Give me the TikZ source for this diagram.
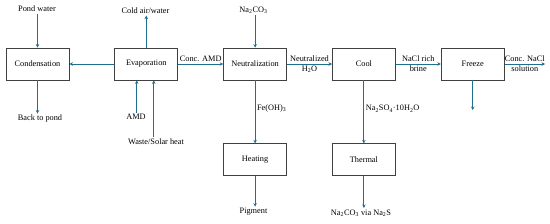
\documentclass[tikz,border=0pt]{standalone}
\usepackage{fontspec}
\setmainfont{Liberation Serif}
\usepackage{xcolor}
\usepackage{tikz}
\usetikzlibrary{arrows.meta,positioning}

\definecolor{flowblue}{RGB}{31,111,143}

\begin{document}
\begin{tikzpicture}[
    x=1pt, y=1pt,
    node distance=63pt and 45pt,
    font=\fontsize{8.3}{9.5}\selectfont,
    >={Stealth[length=3.5pt,width=3.5pt]},
    % Styles
    unit/.style={rectangle, draw=black!75, line width=0.8pt, minimum width=63pt, minimum height=32pt, align=center, inner sep=1pt},
    stream/.style={inner sep=1.5pt, align=center},
    arrow/.style={->, draw=flowblue, line width=0.9pt},
    line/.style={-, draw=flowblue, line width=0.9pt}
]
\useasboundingbox (0,0) rectangle (550,-223);

% --- Main Line ---
\node[unit] (cond) at (37.5,-64) {Condensation};
\node[unit, right=of cond] (evap) {Evaporation};
\node[unit, right=of evap] (neut) {Neutralization};
\node[unit, right=of neut] (cool) {Cool};
\node[unit, right=of cool] (freeze) {Freeze};

% --- Lower Units ---
\node[unit, below=of neut] (heat) {Heating};
\node[unit, below=of cool] (therm) {Thermal};

% --- Streams ---
\node[stream] (pond) at (37,-9) {Pond water};
\node[stream] (back) at (40,-119) {Back to pond};
\node[stream] (cold) at (145.5,-11) {Cold air/water};
\node[stream] (amd) at (136,-117) {AMD};
\node[stream] (waste) at (156,-142) {Waste/Solar heat};
\node[stream] (soda) at (253.5,-10) {Na\textsubscript{2}CO\textsubscript{3}};
\node[stream] (pigm) at (253.5,-212) {Pigment};
\node[stream] (nasulf) at (361,-213) {Na\textsubscript{2}CO\textsubscript{3} via Na\textsubscript{2}S};
\coordinate (frz_out) at (469.5,-110);
\coordinate (nacl_out) at (545,-64);

% --- Connections ---
\draw[arrow] (cond.north |- pond.south) -- (cond);
\draw[arrow] (cond) -- (cond.south |- back.north);
\draw[arrow] (evap) -- (cond);
\draw[arrow] (evap) -- (evap.north |- cold.south);
\draw[arrow] ([xshift=-9.5pt]evap.south |- amd.north) -- ([xshift=-9.5pt]evap.south);
\draw[arrow] ([xshift=7.5pt]evap.south |- waste.north) -- ([xshift=7.5pt]evap.south);
\draw[arrow] (evap) -- node[stream, above, pos=0.5] {Conc. AMD} (neut);
\draw[arrow] (neut.north |- soda.south) -- (neut);
\draw[arrow] (neut) -- node[stream, right, pos=0.45] {Fe(OH)\textsubscript{3}} (heat);
\draw[arrow] (heat) -- (heat.south |- pigm.north);

\draw[arrow] (neut) -- node[stream, above] {Neutralized} node[stream, below] {H\textsubscript{2}O} (cool);
\draw[arrow] (cool) -- node[stream, right, pos=0.45] {Na\textsubscript{2}SO\textsubscript{4}·10H\textsubscript{2}O} (therm);
\draw[arrow] (therm) -- (therm.south |- nasulf.north);

\draw[arrow] (cool) -- node[stream, above] {NaCl rich} node[stream, below] {brine} (freeze);
\draw[arrow] (freeze) -- node[stream, above] {Conc. NaCl} node[stream, below] {solution} (nacl_out);
\draw[arrow] (freeze) -- (freeze.south |- frz_out);

\end{tikzpicture}
\end{document}
